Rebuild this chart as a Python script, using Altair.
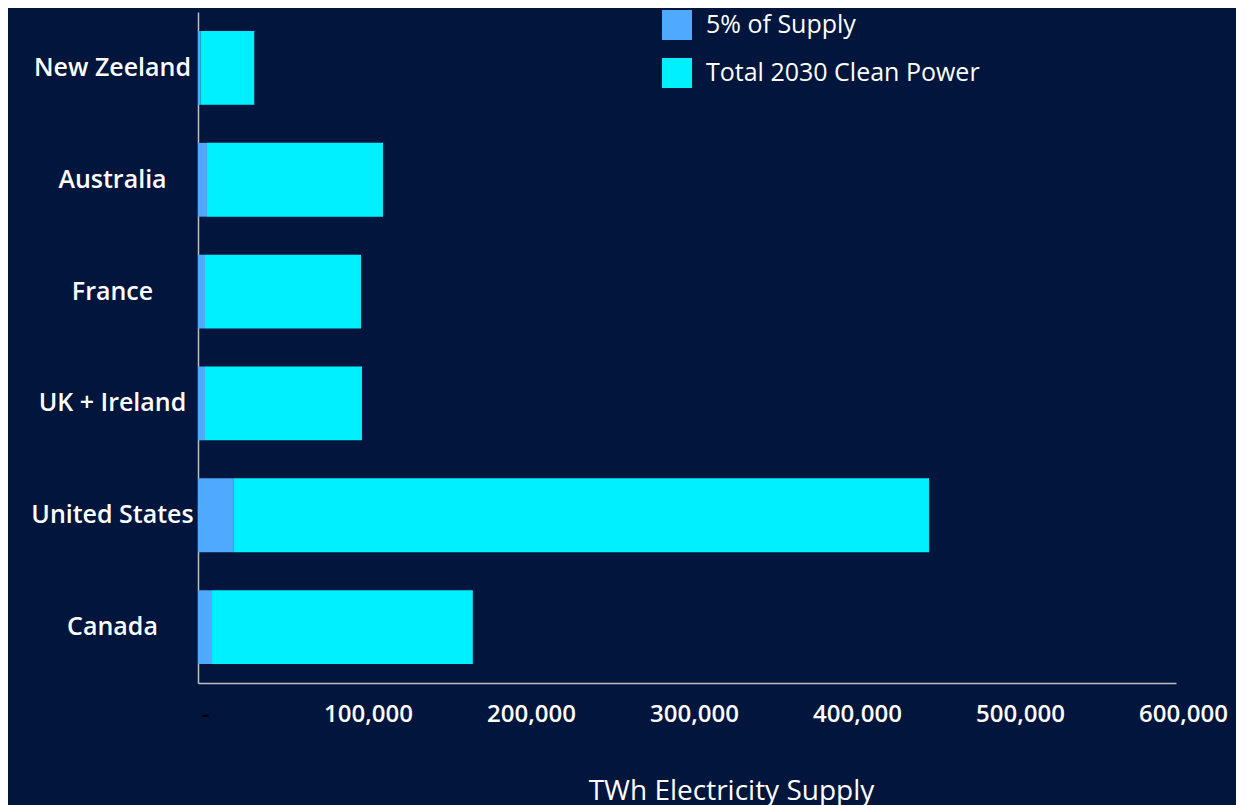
import altair as alt
import pandas as pd

countries = ["New Zeeland", "Australia", "France", "UK + Ireland", "United States", "Canada"]
supply_5pct = [1500, 5500, 4300, 4300, 22000, 8600]
clean_2030 = [33000, 108000, 95700, 96300, 426500, 160000]
series = ["5% of Supply", "Total 2030 Clean Power"]
colors = ["#4FA9FF", "#00F0FF"]
x_ticks = [0, 100000, 200000, 300000, 400000, 500000, 600000]

rows = []
for c, a, b in zip(countries, supply_5pct, clean_2030):
    rows.append({"Country": c, "Series": series[0], "Value": a, "Order": 0})
    rows.append({"Country": c, "Series": series[1], "Value": b, "Order": 1})
df = pd.DataFrame(rows)

FONT = "Open Sans"
BG = "#01153D"

chart = alt.Chart(df).mark_bar().encode(
    y=alt.Y("Country:N", sort=countries,
            scale=alt.Scale(paddingInner=0.34, paddingOuter=0.17),
            axis=alt.Axis(title=None, ticks=False, labelAlign="center", labelPadding=86,
                          labelFontSize=25, labelFontWeight=600, labelColor="white",
                          labelLimit=400,
                          domainColor="#BFBFBF", domainWidth=1.5, grid=False)),
    x=alt.X("Value:Q", stack="zero",
            scale=alt.Scale(domain=[0, 600000], nice=False),
            axis=alt.Axis(title="TWh Electricity Supply", values=x_ticks, ticks=False, grid=False,
                          labelExpr="datum.value == 0 ? '-' : format(datum.value, ',')",
                          labelColor={"expr": "datum.value == 0 ? '#000000' : '#FFFFFF'"},
                          labelFontSize=24, labelFontWeight=600, labelPadding=19, labelOffset=7,
                          labelFlush=False,
                          titleFontSize=28, titleFontWeight="normal", titleColor="white",
                          titleX=533, titleAlign="center",
                          titlePadding=51, domainColor="#BFBFBF", domainWidth=1.5)),
    color=alt.Color("Series:N", scale=alt.Scale(domain=series, range=colors),
                    legend=alt.Legend(title=None, orient="none", legendX=464, legendY=-2,
                                      symbolType="square", symbolSize=900, symbolStrokeWidth=0,
                                      labelFontSize=25, labelColor="white", labelOffset=14,
                                      labelLimit=500, rowPadding=18, labelFont=FONT)),
    order=alt.Order("Order:Q"),
).properties(
    width=978, height=671,
    background=BG,
    padding={"left": 190, "top": 4, "right": 60, "bottom": 130},
    autosize=alt.AutoSizeParams(type="none"),
).configure(font=FONT).configure_view(strokeWidth=0, stroke=None)

chart.save("out.html", embed_options={"renderer": "svg", "actions": False})
